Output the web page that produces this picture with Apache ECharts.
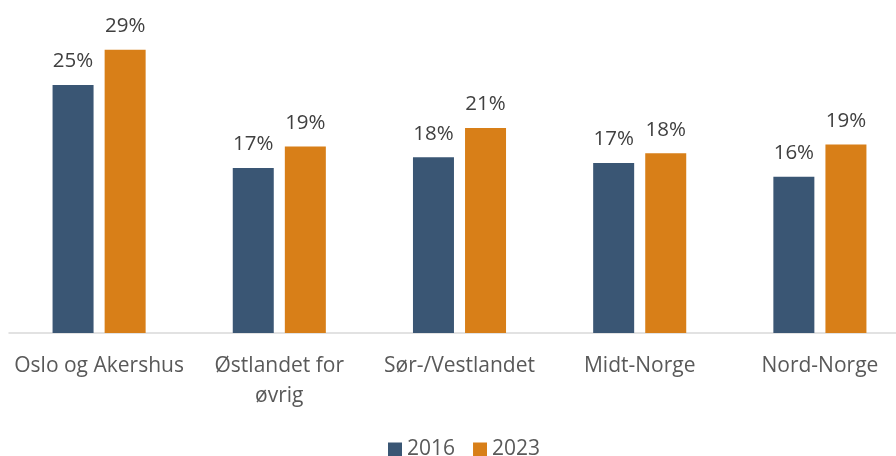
<!DOCTYPE html>
<html>
<head>
<meta charset="utf-8">
<script src="https://cdn.jsdelivr.net/npm/echarts@6/dist/echarts.min.js"></script>
<style>html,body{margin:0;padding:0;background:#fff}#c{width:896px;height:456px}</style>
</head>
<body>
<div id="c"></div>
<script>
const categories = ["Oslo og Akershus", "Østlandet for\nøvrig", "Sør-/Vestlandet", "Midt-Norge", "Nord-Norge"];
const seriesNames = ["2016", "2023"];
const values2016 = [25.4, 16.9, 18.0, 17.4, 16.0];
const values2023 = [29.0, 19.1, 21.0, 18.4, 19.3];
const colors = ["#3a5674", "#d87f18"];

const chart = echarts.init(document.getElementById('c'), null, {renderer: 'canvas'});
const font = '"Open Sans", sans-serif';
function mk(name, data, color) {
  return {
    name: name,
    type: 'bar',
    data: data,
    barWidth: 41,
    barGap: '27%',
    itemStyle: {color: color},
    label: {
      show: true,
      position: 'top',
      distance: 13,
      formatter: p => Math.round(p.value) + '%',
      fontFamily: font,
      fontSize: 20.5,
      color: '#404040'
    }
  };
}
chart.setOption({
  animation: false,
  color: colors,
  grid: {left: 9, width: 901, top: 40, height: 293, containLabel: false, outerBoundsMode: 'none'},
  legend: {
    data: seriesNames,
    left: 383,
    top: 434,
    itemWidth: 14,
    itemHeight: 14,
    itemGap: 18,
    icon: 'rect',
    textStyle: {fontFamily: font, fontSize: 21, color: '#595959'}
  },
  xAxis: {
    type: 'category',
    data: categories,
    axisLine: {show: true, lineStyle: {color: '#d9d9d9', width: 1.5}},
    axisTick: {show: false},
    axisLabel: {fontFamily: font, fontSize: 21, color: '#595959', margin: 18, lineHeight: 30, interval: 0}
  },
  yAxis: {
    type: 'value',
    min: 0,
    max: 30,
    show: false,
    splitLine: {show: false}
  },
  series: [mk(seriesNames[0], values2016, colors[0]), mk(seriesNames[1], values2023, colors[1])]
});
</script>
</body>
</html>
